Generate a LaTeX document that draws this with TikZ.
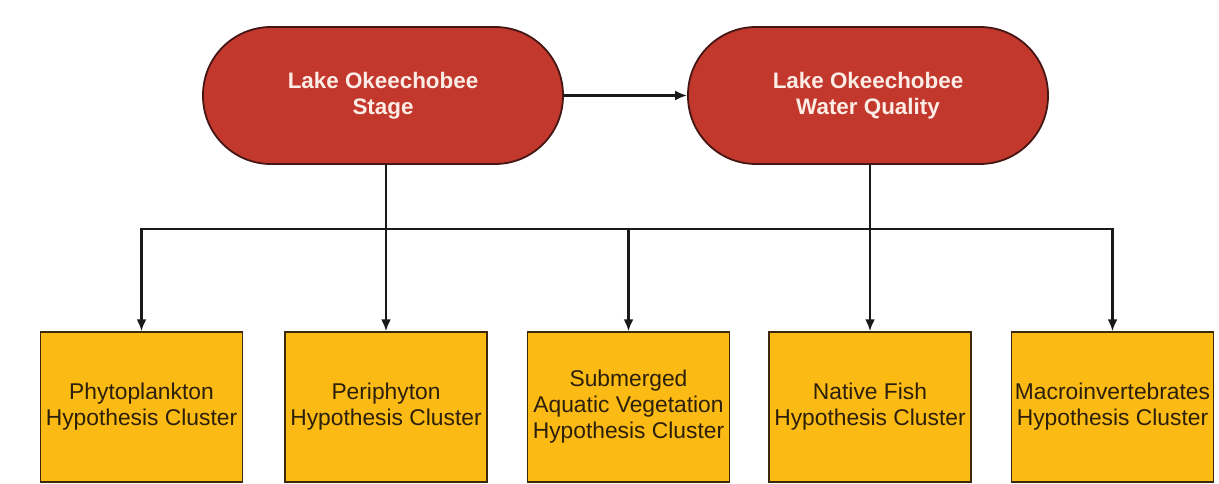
\documentclass[tikz,border=0pt]{standalone}
\usepackage{fontspec}
\setmainfont{Liberation Sans}
\usetikzlibrary{arrows.meta}
\definecolor{stadfill}{RGB}{194,56,44}
\definecolor{staddraw}{RGB}{70,22,20}
\definecolor{stadtext}{RGB}{252,236,230}
\definecolor{boxfill}{RGB}{251,186,20}
\definecolor{boxdraw}{RGB}{60,40,10}
\definecolor{boxtext}{RGB}{45,32,10}
\definecolor{linec}{RGB}{25,25,25}
\tikzset{
  stad/.style={draw=staddraw, line width=1.8pt, fill=stadfill, rounded corners=68pt,
    minimum width=360pt, minimum height=137pt, align=center, text=stadtext,
    font=\fontsize{22.4}{26}\selectfont\bfseries, inner sep=0pt},
  clusterbox/.style={draw=boxdraw, line width=1.5pt, fill=boxfill,
    minimum width=202pt, minimum height=150pt, align=center, text=boxtext,
    font=\fontsize{22.8}{26}\selectfont, inner sep=0pt},
  conn/.style={draw=linec, line width=2.3pt},
  arr/.style={conn, -{Latex[length=12pt,width=10pt]}}
}
\begin{document}
\begin{tikzpicture}[x=1pt,y=-1pt]
\useasboundingbox[fill=white] (0,0) rectangle (1219,483);
\node[stad] (s) at (383,95.5) {Lake Okeechobee\\Stage};
\node[stad] (w) at (868,95.5) {Lake Okeechobee\\Water Quality};
\node[clusterbox] (b1) at (141.5,407) {Phytoplankton\\Hypothesis Cluster};
\node[clusterbox] (b2) at (386,407) {Periphyton\\Hypothesis Cluster};
\node[clusterbox] (b3) at (628.5,407) {Submerged\\Aquatic Vegetation\\Hypothesis Cluster};
\node[clusterbox] (b4) at (870,407) {Native Fish\\Hypothesis Cluster};
\node[clusterbox] (b5) at (1112.5,407) {Macroinvertebrates\\Hypothesis Cluster};
\coordinate (busL) at (141.5,229);
\coordinate (busR) at (1112.5,229);
\draw[arr] (s.east) -- (w.west);
\draw[arr] (s.south -| b2.north) -- (b2.north);
\draw[arr] (w.south -| b4.north) -- (b4.north);
\draw[conn, line cap=rect] (busL) -- (busR);
\draw[arr] (busL) -- (b1.north);
\draw[arr] (busR) -- (b5.north);
\draw[arr] (busL -| b3.north) -- (b3.north);
\end{tikzpicture}
\end{document}
